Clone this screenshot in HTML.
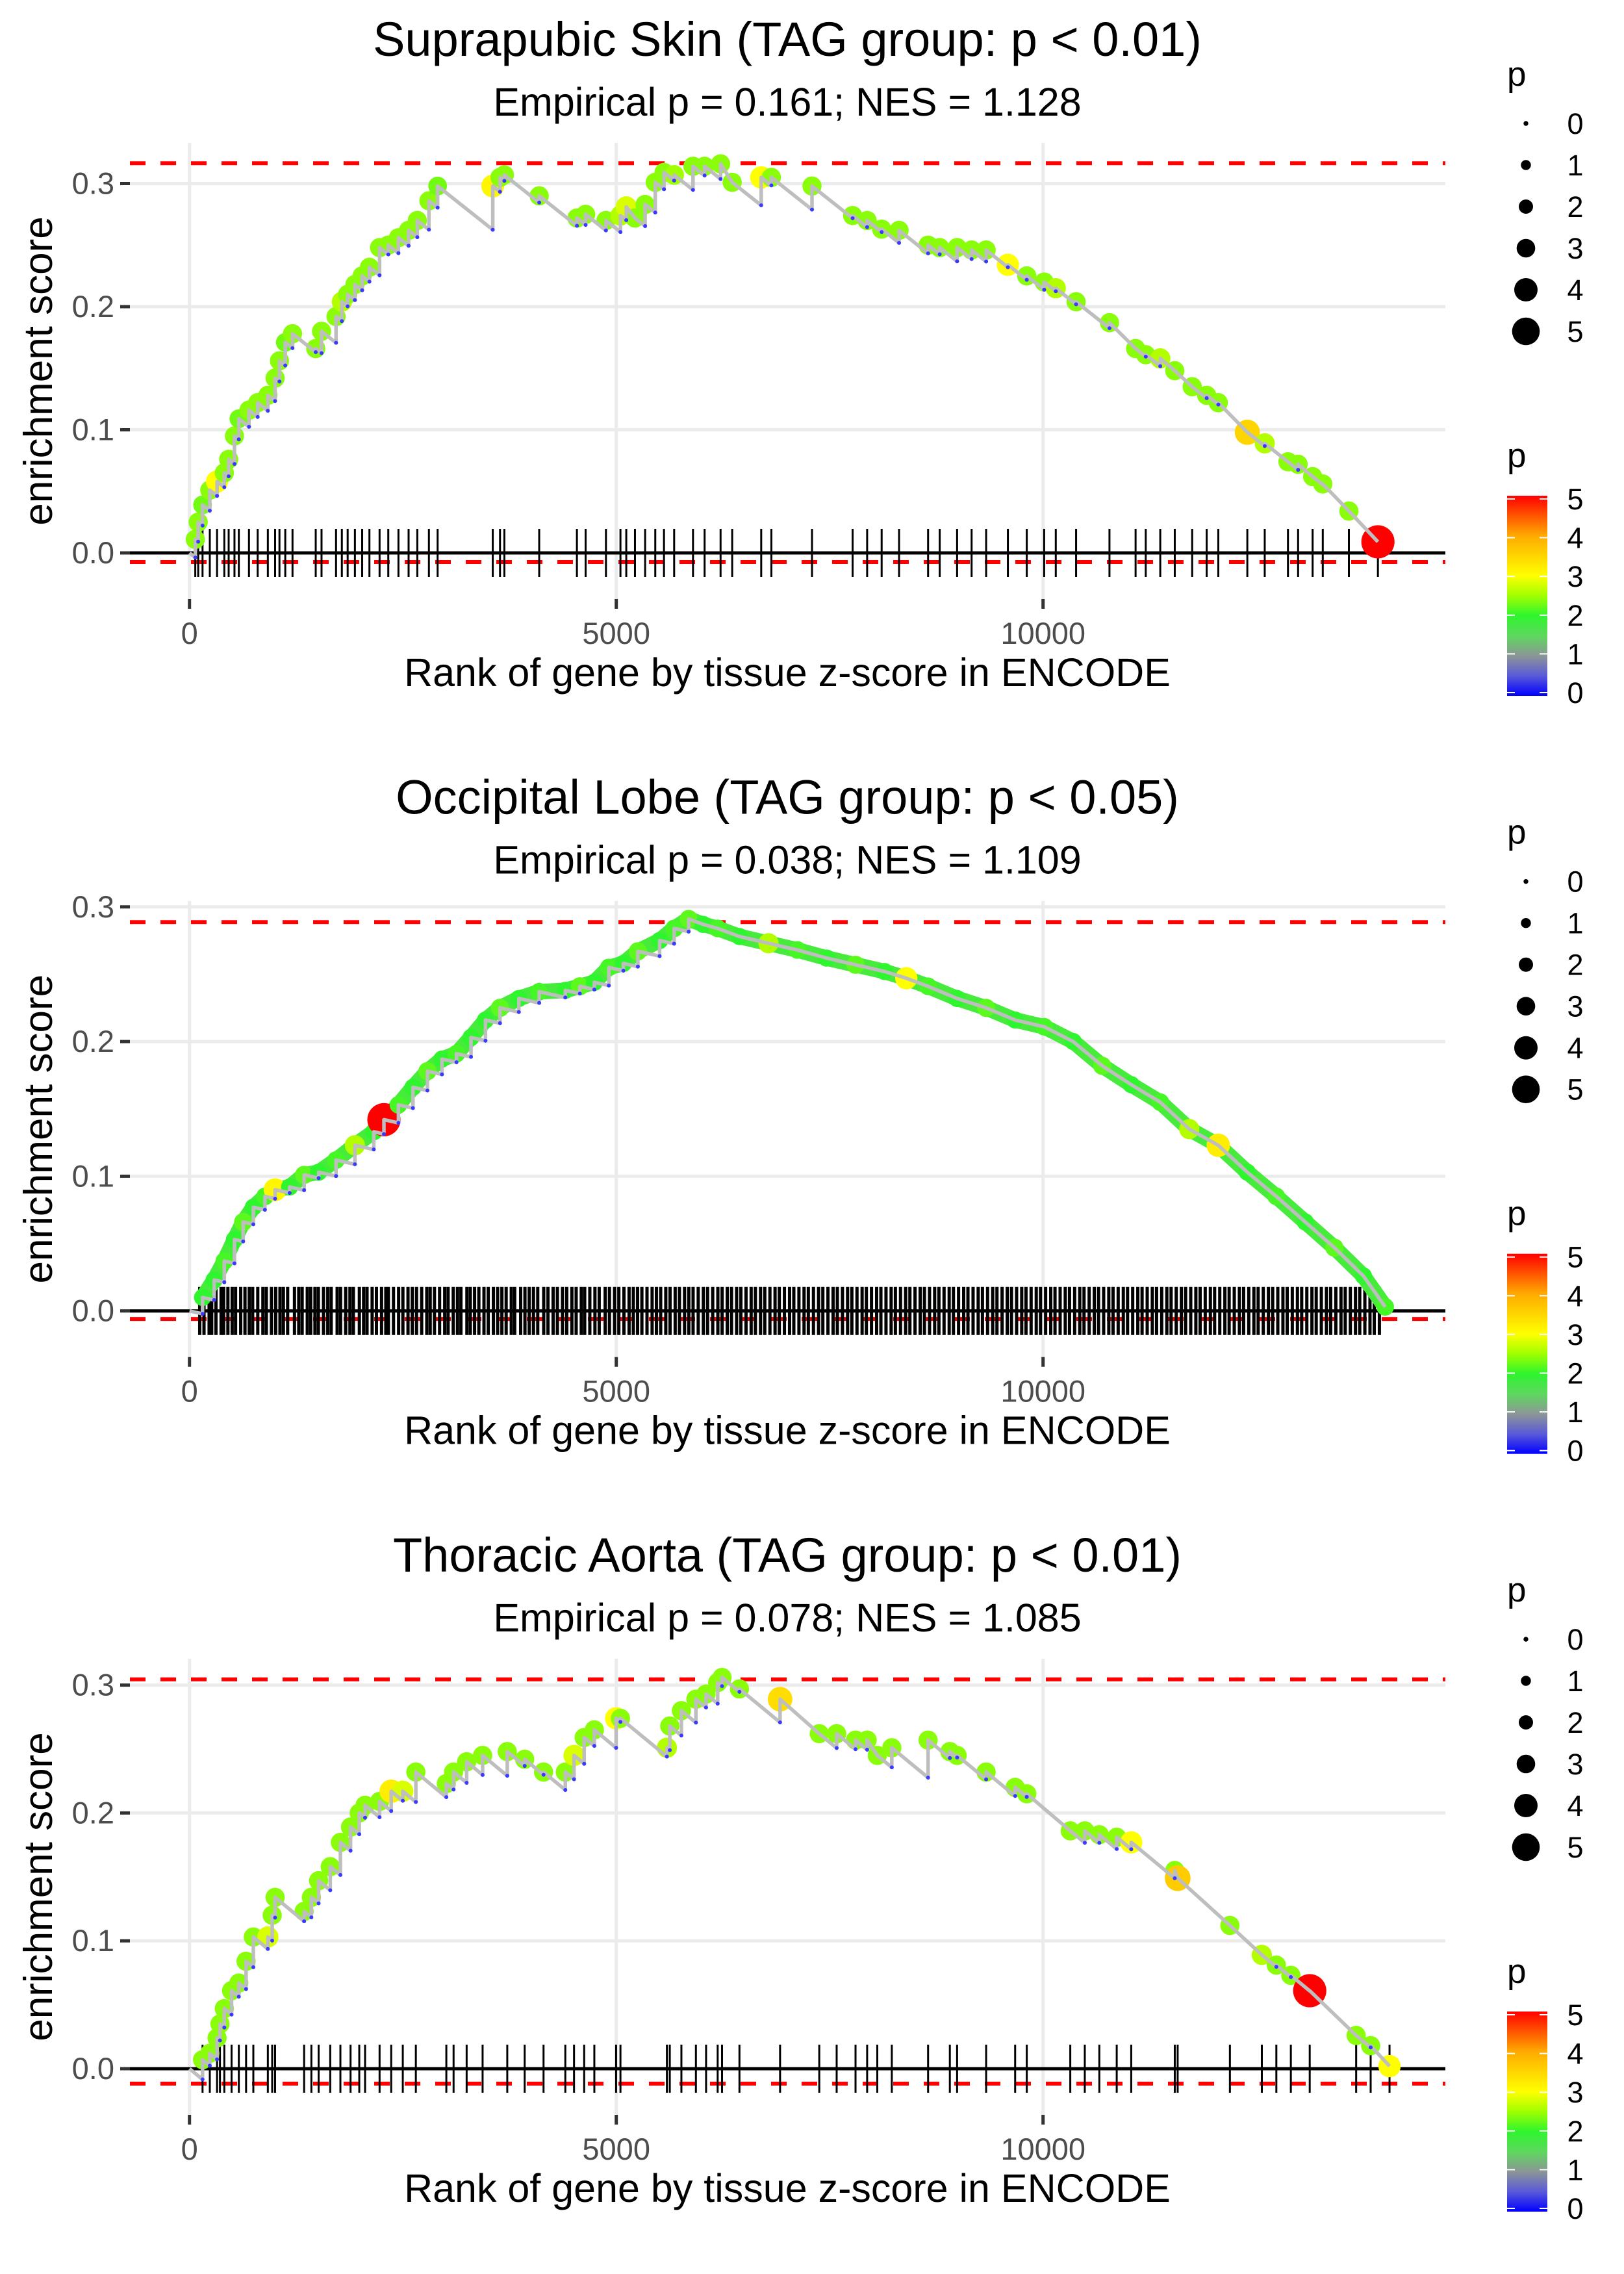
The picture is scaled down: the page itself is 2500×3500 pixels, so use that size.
<!DOCTYPE html>
<html>
<head>
<meta charset="utf-8">
<style>
html,body{margin:0;padding:0;background:#fff;}
svg{display:block;}
text{font-family:"Liberation Sans",Arial,sans-serif;}
</style>
</head>
<body>
<svg id="chart" xmlns="http://www.w3.org/2000/svg" width="2500" height="3500" viewBox="0 0 2500 3500">
<defs>
<linearGradient id="pgrad" x1="0" y1="1" x2="0" y2="0">
<stop offset="0" stop-color="#0000ff"/>
<stop offset="0.1" stop-color="#5a5ad8"/>
<stop offset="0.2" stop-color="#8c9696"/>
<stop offset="0.3" stop-color="#5ed85e"/>
<stop offset="0.4" stop-color="#2ef52e"/>
<stop offset="0.5" stop-color="#a0ff00"/>
<stop offset="0.6" stop-color="#ffff00"/>
<stop offset="0.8" stop-color="#ffaa00"/>
<stop offset="1" stop-color="#ff0000"/>
</linearGradient>
</defs>
<rect x="0" y="0" width="2500" height="3500" fill="#ffffff"/>

<g id="panel0" transform="translate(0,0)">
<text x="1212" y="86" font-size="74" text-anchor="middle">Suprapubic Skin (TAG group: p &lt; 0.01)</text>
<text x="1212" y="178" font-size="61" text-anchor="middle">Empirical p = 0.161; NES = 1.128</text>
<text x="0" y="0" font-size="62" text-anchor="middle" transform="translate(80,571) rotate(-90)">enrichment score</text>
<text x="1212" y="1056" font-size="61" text-anchor="middle">Rank of gene by tissue z-score in ENCODE</text>
</g>
<g id="panel1" transform="translate(0,1166.7)">
<text x="1212" y="86" font-size="74" text-anchor="middle">Occipital Lobe (TAG group: p &lt; 0.05)</text>
<text x="1212" y="178" font-size="61" text-anchor="middle">Empirical p = 0.038; NES = 1.109</text>
<text x="0" y="0" font-size="62" text-anchor="middle" transform="translate(80,571) rotate(-90)">enrichment score</text>
<text x="1212" y="1056" font-size="61" text-anchor="middle">Rank of gene by tissue z-score in ENCODE</text>
</g>
<g id="panel2" transform="translate(0,2333)">
<text x="1212" y="86" font-size="74" text-anchor="middle">Thoracic Aorta (TAG group: p &lt; 0.01)</text>
<text x="1212" y="178" font-size="61" text-anchor="middle">Empirical p = 0.078; NES = 1.085</text>
<text x="0" y="0" font-size="62" text-anchor="middle" transform="translate(80,571) rotate(-90)">enrichment score</text>
<text x="1212" y="1056" font-size="61" text-anchor="middle">Rank of gene by tissue z-score in ENCODE</text>
</g>
</svg>
<script>
// ---------- data ----------
const ranks1=[68,102,153,238,323,408,459,527,578,697,799,918,1003,1054,1122,1207,1479,1547,1717,1785,1853,1938,2023,2108,2227,2329,2448,2567,2669,2805,2907,3553,3638,3689,4097,4539,4641,4879,5049,5117,5219,5338,5457,5559,5678,5899,6035,6222,6358,6698,6817,7293,7769,7939,8109,8313,8653,8789,8993,9163,9333,9588,9809,10013,10149,10387,10778,11084,11203,11373,11543,11747,11917,12053,12393,12597,12869,12988,13158,13277,13583,13923];
const es1=[.011,.025,.039,.051,.058,.065,.076,.095,.109,.116,.122,.128,.142,.156,.171,.178,.166,.18,.192,.204,.21,.218,.225,.232,.248,.25,.256,.262,.27,.286,.298,.298,.305,.307,.29,.272,.275,.27,.274,.281,.272,.283,.301,.309,.307,.314,.314,.316,.301,.305,.305,.298,.274,.27,.263,.262,.25,.248,.248,.246,.246,.234,.225,.22,.215,.204,.187,.166,.161,.158,.148,.135,.128,.122,.098,.089,.074,.072,.062,.056,.034,.009];
const p1=[2.4,2.4,2.3,2.4,3.0,2.4,2.4,2.4,2.3,2.4,2.4,2.4,2.4,2.4,2.3,2.4,2.4,2.4,2.4,2.6,2.4,2.4,2.4,2.4,2.4,2.4,2.4,2.4,2.4,2.4,2.3,3.1,2.4,2.4,2.4,2.4,2.4,2.4,2.6,2.8,2.4,2.4,2.4,2.4,2.5,2.4,2.4,2.4,2.4,3.0,2.4,2.4,2.4,2.4,2.4,2.4,2.4,2.4,2.4,2.4,2.4,3.0,2.4,2.4,2.6,2.4,2.4,2.4,2.4,2.6,2.4,2.4,2.4,2.4,3.5,2.6,2.4,2.4,2.4,2.4,2.4,5.0];
const ticks1=ranks1;

const ranks2=[153,289,408,527,629,748,884,1003,1173,1343,1513,1717,1938,2159,2278,2448,2618,2788,2958,3128,3298,3468,3638,3859,4097,4403,4573,4743,4913,5083,5253,5508,5678,5848,6018,6188,6443,6783,7123,7463,7803,8143,8398,8653,8993,9333,9673,10013,10353,10693,11033,11373,11713,12053,12393,12733,13073,13413,13753,14008];
const es2=[.01,.023,.037,.053,.066,.077,.085,.09,.092,.101,.103,.112,.123,.133,.142,.153,.166,.178,.187,.191,.203,.216,.225,.232,.237,.238,.241,.244,.255,.258,.267,.275,.284,.291,.287,.284,.278,.273,.268,.262,.257,.252,.247,.241,.232,.225,.216,.211,.2,.182,.168,.155,.135,.123,.103,.085,.066,.047,.026,.003];
const p2=[2.0,2.0,2.1,2.0,2.2,2.0,2.1,3.1,2.0,2.2,2.0,2.1,2.6,2.0,5.0,2.1,2.0,2.2,2.0,2.1,2.0,2.0,2.2,2.0,2.1,2.0,2.2,2.0,2.1,2.0,2.2,2.0,2.1,2.2,2.0,2.1,2.0,2.6,2.1,2.0,2.2,2.0,3.0,2.1,2.0,2.2,2.0,2.1,2.0,2.2,2.0,2.1,2.6,3.2,2.0,2.1,2.0,2.2,2.0,2.1];
const ticks2=[120,170,230,260,310,370,400,450,500,540,600,650,700,740,800,860,900,960,1010,1060,1100,1150,1230,1280,1320,1380,1420,1470,1510,1570,1620,1660,1730,1770,1830,1880,1920,1990,2040,2080,2140,2190,2250,2300,2330,2390,2450,2500,2560,2610,2660,2720,2780,2820,2870,2930,2990,3030,3090,3140,3180,3250,3290,3340,3390,3450,3500,3560,3610,3660,3710,3770,3810,3880,3930,3980,4030,4080,4150,4200,4260,4310,4370,4420,4480,4530,4590,4630,4690,4750,4800,4870,4920,4980,5030,5090,5150,5200,5250,5300,5360,5420,5470,5520,5580,5630,5690,5740,5800,5850,5900,5960,6020,6070,6130,6190,6240,6300,6350,6410,6460,6520,6580,6630,6690,6740,6800,6860,6910,6970,7030,7080,7140,7200,7250,7310,7370,7420,7480,7540,7590,7650,7710,7760,7820,7880,7930,7990,8050,8100,8160,8220,8270,8330,8390,8440,8500,8560,8610,8670,8730,8780,8840,8900,8950,9010,9070,9120,9180,9240,9290,9350,9410,9460,9520,9580,9630,9690,9750,9800,9860,9920,9970,10030,10090,10140,10200,10260,10310,10370,10430,10480,10540,10600,10650,10710,10770,10820,10880,10940,10990,11050,11110,11160,11220,11280,11330,11390,11450,11500,11560,11620,11670,11730,11790,11840,11900,11960,12010,12070,12130,12180,12240,12300,12350,12410,12470,12520,12580,12640,12690,12750,12810,12860,12920,12980,13030,13090,13150,13200,13260,13320,13370,13430,13490,13540,13600,13660,13710,13770,13830,13880,13940];

const ranks3=[153,238,323,357,408,493,578,663,748,918,969,1003,1343,1428,1513,1649,1768,1887,1989,2057,2227,2363,2499,2652,3009,3094,3247,3434,3723,3927,4148,4403,4505,4624,4743,4998,5049,5593,5627,5763,5933,6052,6188,6239,6443,6919,7378,7582,7803,7939,8058,8228,8653,8908,8993,9333,9673,9809,10319,10489,10659,10863,11033,11543,11577,12189,12563,12733,12903,13124,13668,13838,14059];
const es3=[.007,.012,.024,.035,.047,.061,.067,.084,.103,.103,.12,.134,.123,.134,.147,.158,.177,.189,.2,.206,.209,.217,.217,.232,.223,.232,.24,.245,.248,.242,.232,.232,.245,.259,.265,.274,.274,.251,.268,.28,.289,.293,.302,.306,.297,.289,.262,.262,.257,.257,.245,.251,.257,.248,.245,.232,.22,.215,.186,.186,.183,.181,.177,.155,.149,.112,.089,.081,.073,.061,.026,.018,.002];
const p3=[2.4,2.4,2.4,2.4,2.4,2.4,2.4,2.4,2.4,2.8,2.4,2.4,2.4,2.4,2.4,2.4,2.4,2.4,2.4,2.4,2.4,3.2,2.8,2.4,2.4,2.4,2.4,2.4,2.4,2.4,2.4,2.4,2.8,2.4,2.4,3.0,2.4,2.6,2.4,2.4,2.4,2.4,2.4,2.4,2.4,3.4,2.4,2.4,2.4,2.4,2.4,2.4,2.4,2.4,2.4,2.4,2.4,2.4,2.4,2.4,2.4,2.4,3.0,2.4,3.6,2.4,2.6,2.4,2.4,5.0,2.4,2.4,3.0];
const ticks3=ranks3;

const esMax=[0.3165,0.2887,0.3045];
const esMin=[-0.0074,-0.006,-0.0117];
const xTickVals=[0,5000,10000];
const xTickLabels=["0","5000","10000"];
const yTickVals=[0,0.1,0.2,0.3];
const yTickLabels=["0.0","0.1","0.2","0.3"];
const legendSizeVals=[0,1,2,3,4,5];
const legendColorVals=[0,1,2,3,4,5];

// ---------- layout ----------
const NS="http://www.w3.org/2000/svg";
const zeroY=851, panelTop=220, panelBottom=922, panelLeft=200, panelRight=2225;
const unitPx=[1895,2073,1968];
const missRate=[5.5e-5,1.4e-5,5.5e-5];
const tickWidth=[3,5,3];
const denseBand=[false,true,false];
const pointScale=1.2;
function xs(r){return 291.7+r*0.1314;}
const colorStops=[[0,[0,0,255]],[0.5,[90,90,216]],[1,[140,150,150]],[1.5,[94,216,94]],[2,[46,245,46]],[2.5,[160,255,0]],[3,[255,255,0]],[4,[255,170,0]],[5,[255,0,0]]];
function pColor(p){
  for(let i=1;i<colorStops.length;i++){
    if(p<=colorStops[i][0]){
      const a=colorStops[i-1],b=colorStops[i],t=(p-a[0])/(b[0]-a[0]);
      const c=a[1].map((v,j)=>Math.round(v+(b[1][j]-v)*t));
      return "rgb("+c.join(",")+")";
    }
  }
  return "rgb(255,0,0)";
}
const radii=[3.7,7.7,11,14.3,18,21.3];
function pRad(p){
  const i=Math.min(4,Math.floor(p));const t=p-i;
  return radii[i]+(radii[i+1]-radii[i])*t;
}
function mk(tag,attrs,parent){
  const e=document.createElementNS(NS,tag);
  for(const k in attrs)e.setAttribute(k,attrs[k]);
  parent.appendChild(e);return e;
}

function drawPanel(k,ranks,es,p,ticks){
  const g=document.getElementById("panel"+k);
  const ys=v=>zeroY-v*unitPx[k];
  const first=g.firstChild;
  const grid=document.createElementNS(NS,"g");
  
  
  g.insertBefore(grid,first);
  yTickVals.forEach((v,i)=>{
    const l=mk("line",{x1:panelLeft,x2:panelRight,y1:ys(v),y2:ys(v),stroke:"#ebebeb","stroke-width":5},grid);
    
    
    const t=mk("line",{x1:185,x2:200,y1:ys(v),y2:ys(v),stroke:"#333","stroke-width":5},grid);
    
    
    const tx=mk("text",{x:176,y:ys(v)+16,"font-size":47,"text-anchor":"end",fill:"#4d4d4d"},grid);
    tx.textContent=yTickLabels[i];
    
    
  });
  xTickVals.forEach((v,i)=>{
    const l=mk("line",{x1:xs(v),x2:xs(v),y1:panelTop,y2:panelBottom,stroke:"#ebebeb","stroke-width":5},grid);
    
    
    const t=mk("line",{x1:xs(v),x2:xs(v),y1:panelBottom,y2:panelBottom+15,stroke:"#333","stroke-width":5},grid);
    
    
    const tx=mk("text",{x:xs(v),y:991,"font-size":47,"text-anchor":"middle",fill:"#4d4d4d"},grid);
    tx.textContent=xTickLabels[i];
    
    
  });
  [esMax[k],esMin[k]].forEach(v=>{
    const d=mk("line",{x1:panelLeft,x2:panelRight,y1:ys(v),y2:ys(v),stroke:"#ff0000","stroke-width":6,"stroke-dasharray":"24 23"},g);
    
    
  });
  const bl=mk("line",{x1:panelLeft,x2:panelRight,y1:ys(0),y2:ys(0),stroke:"#000","stroke-width":5},g);
  
  
  const tg=mk("g",{},g);
  
  
  ticks.forEach(r=>{
    const t=mk("line",{x1:xs(r),x2:xs(r),y1:ys(0)-37,y2:ys(0)+37,stroke:"#000","stroke-width":tickWidth[k]},tg);
    
    
  });
  if(denseBand[k]){
    let bd="M"+xs(ranks[0])+","+ys(es[0]);
    ranks.forEach((r,i)=>{bd+=" L"+xs(r)+","+ys(es[i]);});
    const band=mk("path",{d:bd,fill:"none",stroke:"rgb(70,235,60)","stroke-width":24,"stroke-linejoin":"round","stroke-linecap":"round"},g);
    
    
  }
  const pg=mk("g",{},g);
  
  
  ranks.forEach((r,i)=>{
    const c=mk("circle",{cx:xs(r),cy:ys(es[i]),r:pRad(p[i])*pointScale,fill:pColor(p[i])},pg);
    
    
  });
  let d="M"+xs(0)+","+ys(0);
  let prevR=0,prevE=0;const valleys=[];
  ranks.forEach((r,i)=>{
    let v=prevE-missRate[k]*(r-prevR);
    if(v>es[i])v=es[i];
    d+=" L"+xs(r)+","+ys(v)+" L"+xs(r)+","+ys(es[i]);
    if(v<es[i]-0.001)valleys.push([r,v]);
    prevR=r;prevE=es[i];
  });
  const path=mk("path",{d:d,fill:"none",stroke:"#bebebe","stroke-width":5.5,"stroke-linejoin":"round"},g);
  
  
  valleys.forEach(vv=>{
    const c=mk("circle",{cx:xs(vv[0]),cy:ys(vv[1]),r:3,fill:"#3a3aff"},g);
    
    
  });
  const lg=mk("g",{},g);
  
  
  const lt=mk("text",{x:2320,y:132,"font-size":53},lg);
  lt.textContent="p";
  
  
  legendSizeVals.forEach((v,i)=>{
    const cy=190+i*64;
    const c=mk("circle",{cx:2349,cy:cy,r:radii[i],fill:"#000"},lg);
    
    
    const t=mk("text",{x:2425,y:cy+16,"font-size":45,"text-anchor":"middle"},lg);
    t.textContent=String(v);
    
    
  });
  const cg=mk("g",{},g);
  
  
  const ct=mk("text",{x:2320,y:719,"font-size":53},cg);
  ct.textContent="p";
  
  
  const barTop=763,barBot=1071,v0=1066,v5=768;
  const bar=mk("rect",{x:2320,y:barTop,width:62,height:barBot-barTop,fill:"url(#pgrad)"},cg);
  
  
  legendColorVals.forEach(v=>{
    const y=v0+(v5-v0)*v/5;
    const a=mk("line",{x1:2320,x2:2332,y1:y,y2:y,stroke:"#fff","stroke-width":2},cg);
    
    
    const b=mk("line",{x1:2370,x2:2382,y1:y,y2:y,stroke:"#fff","stroke-width":2},cg);
    
    
    const t=mk("text",{x:2425,y:y+16,"font-size":45,"text-anchor":"middle"},cg);
    t.textContent=String(v);
    
    
  });
}
drawPanel(0,ranks1,es1,p1,ticks1);
drawPanel(1,ranks2,es2,p2,ticks2);
drawPanel(2,ranks3,es3,p3,ticks3);
</script>
</body>
</html>
